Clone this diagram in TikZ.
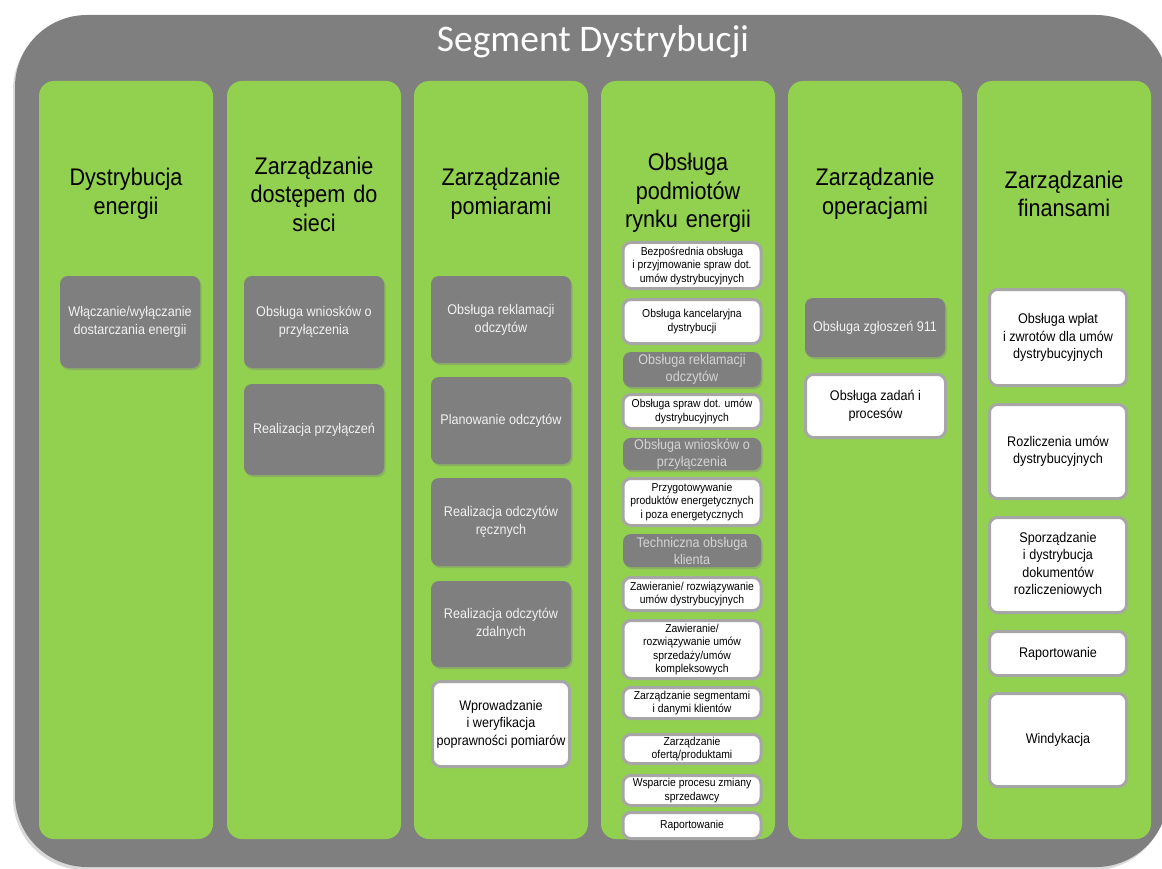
\documentclass[tikz,border=0pt]{standalone}
\usepackage{fontspec}
\setmainfont{Liberation Sans}[FakeStretch=0.9]
\newfontfamily\titlefont{Carlito}
\usepackage{tikz}
\usetikzlibrary{positioning, shadows}
\definecolor{segGray}{HTML}{7F7F7F}
\definecolor{segGreen}{HTML}{92D050}
\definecolor{segEdge}{HTML}{A6A6A6}
\definecolor{segText}{HTML}{F2F2F2}
\definecolor{segDim}{HTML}{D4D4D4}

\begin{document}
\begin{tikzpicture}[x=1pt,y=-1pt,inner sep=2pt,
        frame/.style={rectangle,rounded corners=72pt,fill=segGray,minimum width=1153pt,minimum height=852pt,
            drop shadow={shadow xshift=-2pt,shadow yshift=-3pt,opacity=.3}},
        lane/.style={rectangle,rounded corners=15pt,fill=segGreen,minimum width=174pt,minimum height=758pt},
        headline/.style={text width=172pt,align=center,font=\fontsize{24}{28.5}\selectfont},
        grayproc/.style={rectangle,rounded corners=8pt,fill=segGray,text=segText,align=center,minimum width=140pt,
            font=\fontsize{14}{18}\selectfont,drop shadow={shadow xshift=1.5pt,shadow yshift=-2pt,opacity=.4}},
        whiteproc/.style={rectangle,rounded corners=8pt,fill=white,draw=segEdge,line width=3pt,align=center,minimum width=137pt,
            font=\fontsize{14}{17.5}\selectfont},
        smallproc/.style={whiteproc,minimum width=138pt,inner sep=1pt,font=\fontsize{11.5}{13.5}\selectfont},
        smallgray/.style={grayproc,minimum width=138pt,inner sep=1pt,text=segDim,font=\fontsize{14}{17}\selectfont}]
        \useasboundingbox (0,0) rectangle (1162,869);
        \node[frame] (seg) at (591.5,441) {};
        \node[text=white,font=\titlefont\fontsize{37.5}{40}\selectfont] (title) at (593,42) {Segment Dystrybucji};

        \node[lane] (l1) at (126,460) {};
        \node[lane] (l2) at (314,460) {};
        \node[lane] (l3) at (501,460) {};
        \node[lane] (l4) at (688,460) {};
        \node[lane] (l5) at (875,460) {};
        \node[lane] (l6) at (1064,460) {};

        \node[headline] (h1) at (126,194) {Dystrybucja\\energii};
        \node[headline] (h2) at (314,194) {Zarządzanie\\dostępem do\\sieci};
        \node[headline] (h3) at (501,194) {Zarządzanie\\pomiarami};
        \node[headline] (h4) at (688,193) {Obsługa\\podmiotów\\rynku energii};
        \node[headline] (h5) at (875,194) {Zarządzanie\\operacjami};
        \node[headline] (h6) at (1064,194) {Zarządzanie\\finansami};

        \node[grayproc,minimum height=92pt] (d1) at (130,322) {Włączanie/wyłączanie\\dostarczania energii};

        \node[grayproc,minimum height=92pt] (z1) at (314,322) {Obsługa wniosków o\\przyłączenia};
        \node[grayproc,minimum height=91pt] (z2) at (314,429.5) {Realizacja przyłączeń};

        \node[grayproc,minimum height=87pt] (p1) at (501,319.5) {Obsługa reklamacji\\odczytów};
        \node[grayproc,minimum height=87pt] (p2) at (501,420.5) {Planowanie odczytów};
        \node[grayproc,minimum height=88pt] (p3) at (501,522) {Realizacja odczytów\\ręcznych};
        \node[grayproc,minimum height=86pt] (p4) at (501,624) {Realizacja odczytów\\zdalnych};
        \node[whiteproc,minimum height=85pt] (p5) at (501,724) {Wprowadzanie\\i weryfikacja\\poprawności pomiarów};

        \node[smallproc,minimum height=46pt] (r1) at (692,265.5) {Bezpośrednia obsługa\\i przyjmowanie spraw dot.\\umów dystrybucyjnych};
        \node[smallproc,minimum height=44pt] (r2) at (692,321.5) {Obsługa kancelaryjna\\dystrybucji};
        \node[smallgray,minimum height=35pt] (r3) at (692,369.5) {Obsługa reklamacji\\odczytów};
        \node[smallproc,minimum height=34pt] (r4) at (692,411.5) {Obsługa spraw dot. umów\\dystrybucyjnych};
        \node[smallgray,minimum height=32pt] (r5) at (692,454) {Obsługa wniosków o\\przyłączenia};
        \node[smallproc,minimum height=47pt] (r6) at (692,502) {Przygotowywanie\\produktów energetycznych\\i poza energetycznych};
        \node[smallgray,minimum height=33pt] (r7) at (692,550.5) {Techniczna obsługa\\klienta};
        \node[smallproc,minimum height=33pt] (r8) at (692,594) {Zawieranie/ rozwiązywanie\\umów dystrybucyjnych};
        \node[smallproc,minimum height=58pt] (r9) at (692,649.5) {Zawieranie/\\rozwiązywanie umów\\sprzedaży/umów\\kompleksowych};
        \node[smallproc,minimum height=31pt] (r10) at (692,703) {Zarządzanie segmentami\\i danymi klientów};
        \node[smallproc,minimum height=29pt] (r11) at (692,749) {Zarządzanie\\ofertą/produktami};
        \node[smallproc,minimum height=30pt] (r12) at (692,790.5) {Wsparcie procesu zmiany\\sprzedawcy};
        \node[smallproc,minimum height=26pt] (r13) at (692,825.5) {Raportowanie};

        \node[grayproc,minimum height=59pt] (o1) at (875,327.5) {Obsługa zgłoszeń 911};
        \node[whiteproc,minimum width=140pt,minimum height=63pt] (o2) at (875.5,406) {Obsługa zadań i\\procesów};

        \node[whiteproc,minimum height=96pt] (f1) at (1058,337.5) {Obsługa wpłat\\i zwrotów dla umów\\dystrybucyjnych};
        \node[whiteproc,minimum height=94pt] (f2) at (1058,451.5) {Rozliczenia umów\\dystrybucyjnych};
        \node[whiteproc,minimum height=95pt] (f3) at (1058,565) {Sporządzanie\\i dystrybucja\\dokumentów\\rozliczeniowych};
        \node[whiteproc,minimum height=44pt] (f4) at (1058,653.5) {Raportowanie};
        \node[whiteproc,minimum height=93pt] (f5) at (1058,740) {Windykacja};
    \end{tikzpicture}
\end{document}
